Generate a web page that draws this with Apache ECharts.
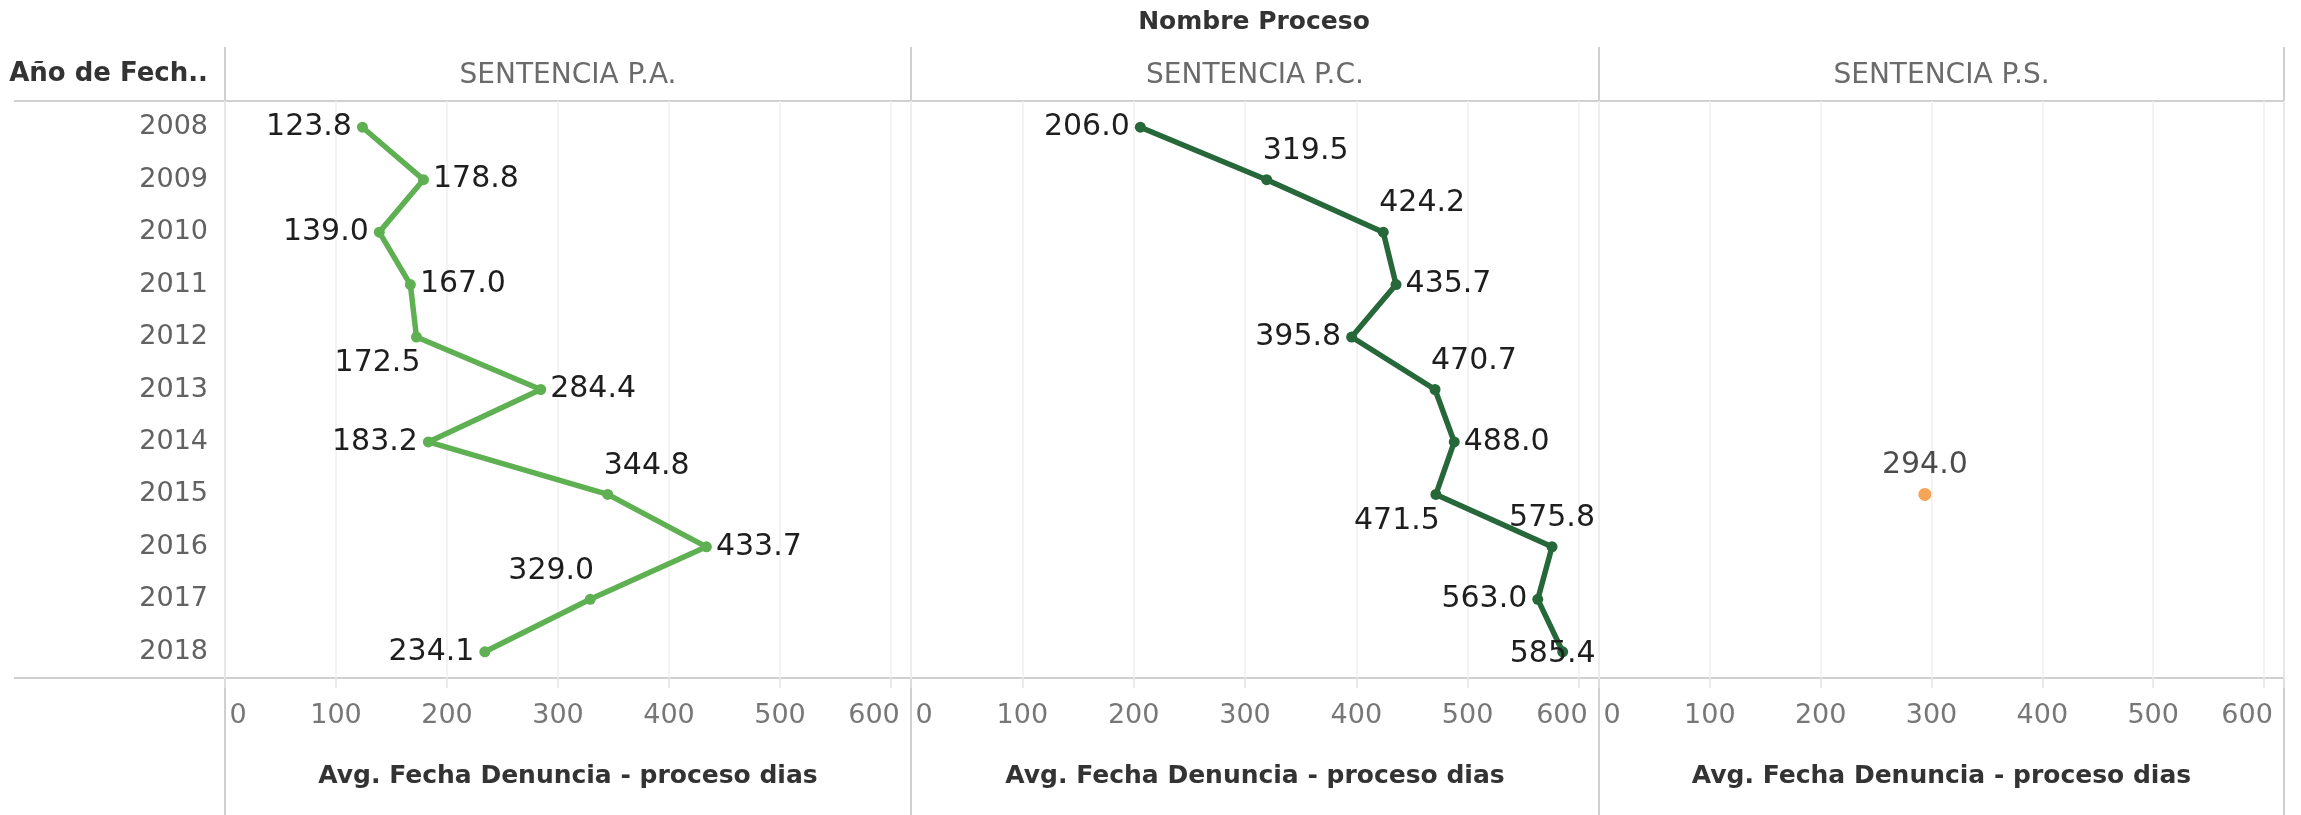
<!DOCTYPE html>
<html>
<head>
<meta charset="utf-8">
<script src="https://cdn.jsdelivr.net/npm/echarts@6/dist/echarts.min.js"></script>
<style>
  html, body { margin: 0; padding: 0; background: #fff; }
  #chart { width: 2301px; height: 815px; }
</style>
</head>
<body>
<div id="chart"></div>
<script>
// datos
const years = ['2008', '2009', '2010', '2011', '2012', '2013', '2014', '2015', '2016', '2017', '2018'];
const procesos = ['SENTENCIA P.A.', 'SENTENCIA P.C.', 'SENTENCIA P.S.'];
const diasPA = [123.8, 178.8, 139.0, 167.0, 172.5, 284.4, 183.2, 344.8, 433.7, 329.0, 234.1];
const diasPC = [206.0, 319.5, 424.2, 435.7, 395.8, 470.7, 488.0, 471.5, 575.8, 563.0, 585.4];
const diasPS = [null, null, null, null, null, null, null, 294.0, null, null, null];
const xTicks = [0, 100, 200, 300, 400, 500, 600];

// donde va cada etiqueta (l, r, t, tr, tl, bl, c)
const placePA = ['l', 'r', 'l', 'r', 'bl', 'r', 'l', 'tr', 'r', 'tl', 'l'];
const placePC = ['l', 'tr', 'tr', 'r', 'l', 'tr', 'r', 'bl', 't', 'l', 'c'];
const placePS = [null, null, null, null, null, null, null, 't', null, null, null];

const FONT = 'DejaVu Sans';
const colors = ['#5fb052', '#27683a', '#f28e2b'];
const gridLeft = [225, 911, 1599];
const gridWidth = [686, 688, 685];
const gridTop = 101;
const gridBottom = 678;

function labelFor(p) {
  switch (p) {
    case 'l': return { position: 'left', distance: 5 };
    case 'r': return { position: 'right', distance: 4 };
    case 't': return { position: 'top', distance: 8 };
    case 'tr': return { position: 'top', distance: 8, align: 'left', offset: [-4, 0] };
    case 'tl': return { position: 'top', distance: 8, align: 'right', offset: [4, 0] };
    case 'bl': return { position: 'bottom', distance: 6, align: 'right', offset: [4, 0] };
    case 'c': return { position: 'inside', offset: [-10, 2] };
  }
  return {};
}

function points(vals, places) {
  const out = [];
  vals.forEach((v, i) => {
    if (v == null) return;
    out.push({ value: [v, years[i]], label: labelFor(places[i]) });
  });
  return out;
}

const chart = echarts.init(document.getElementById('chart'));

const tickLabel = { fontSize: 27, color: '#777', fontFamily: FONT };

const grids = [0, 1, 2].map(i => ({
  left: gridLeft[i], top: gridTop, width: gridWidth[i], height: gridBottom - gridTop,
  containLabel: false, outerBoundsMode: 'none'
}));

const xAxes = [0, 1, 2].map(i => ({
  type: 'value', gridIndex: i, min: 0, max: 618, interval: 100,
  axisLine: { show: false },
  axisTick: { show: true, length: 10, lineStyle: { color: '#e4e4e4', width: 1.5 } },
  splitLine: { show: true, lineStyle: { color: '#efefef', width: 1.5 } },
  axisLabel: {
    margin: 24, ...tickLabel,
    formatter: v => {
      if (!xTicks.includes(v)) return '';
      if (v === xTicks[0]) return '{first|' + v + '}';
      if (v === xTicks[xTicks.length - 1]) return '{last|' + v + '}';
      return String(v);
    },
    rich: {
      first: { ...tickLabel, padding: [0, 0, 0, 26] },
      last: { ...tickLabel, padding: [0, 34, 0, 0] }
    }
  },
  name: 'Avg. Fecha Denuncia - proceso dias',
  nameLocation: 'middle', nameGap: 86,
  nameTextStyle: { fontFamily: FONT, fontWeight: 'bold', fontSize: 25, color: '#333' }
}));

const yAxes = [0, 1, 2].map(i => ({
  type: 'category', gridIndex: i, data: years, inverse: true,
  axisLine: { show: false }, axisTick: { show: false }, splitLine: { show: false },
  axisLabel: { show: i === 0, margin: 17, fontSize: 27, color: '#626262', fontFamily: FONT }
}));

const dataLabel = {
  show: true, fontSize: 30, color: '#1e1e1e', fontFamily: FONT,
  formatter: p => p.value[0].toFixed(1)
};

const series = [
  {
    type: 'line', xAxisIndex: 0, yAxisIndex: 0, name: procesos[0],
    data: points(diasPA, placePA),
    symbol: 'circle', symbolSize: 11,
    lineStyle: { color: colors[0], width: 5.5 },
    itemStyle: { color: colors[0] },
    label: dataLabel
  },
  {
    type: 'line', xAxisIndex: 1, yAxisIndex: 1, name: procesos[1],
    data: points(diasPC, placePC),
    symbol: 'circle', symbolSize: 11,
    lineStyle: { color: colors[1], width: 5.5 },
    itemStyle: { color: colors[1] },
    label: dataLabel
  },
  {
    type: 'scatter', xAxisIndex: 2, yAxisIndex: 2, name: procesos[2],
    data: points(diasPS, placePS),
    symbol: 'circle', symbolSize: 13,
    itemStyle: { color: colors[2] },
    label: dataLabel
  }
];

// marco de la tabla estilo tableau
const border = { stroke: '#d0d0d0', lineWidth: 2 };
const graphic = [];
gridLeft.concat([2284]).forEach(x => {
  graphic.push({ type: 'line', shape: { x1: x, y1: 47, x2: x, y2: 815 }, style: border, silent: true });
});
[gridTop, gridBottom].forEach(y => {
  graphic.push({ type: 'line', shape: { x1: 14, y1: y, x2: 2284, y2: y }, style: border, silent: true });
});
graphic.push({
  type: 'text', x: 1254, y: 22,
  style: { text: 'Nombre Proceso', align: 'center', verticalAlign: 'middle', font: 'bold 25px "DejaVu Sans"', fill: '#333' }
});
graphic.push({
  type: 'text', x: 208, y: 74,
  style: { text: 'Año de Fech..', align: 'right', verticalAlign: 'middle', font: 'bold 26px "DejaVu Sans"', fill: '#333' }
});
procesos.forEach((p, i) => {
  graphic.push({
    type: 'text', x: gridLeft[i] + gridWidth[i] / 2, y: 76,
    style: { text: p, align: 'center', verticalAlign: 'middle', font: '28px "DejaVu Sans"', fill: '#6b6b6b' }
  });
});

chart.setOption({
  animation: false,
  grid: grids,
  xAxis: xAxes,
  yAxis: yAxes,
  series: series,
  graphic: graphic
});
</script>
</body>
</html>
